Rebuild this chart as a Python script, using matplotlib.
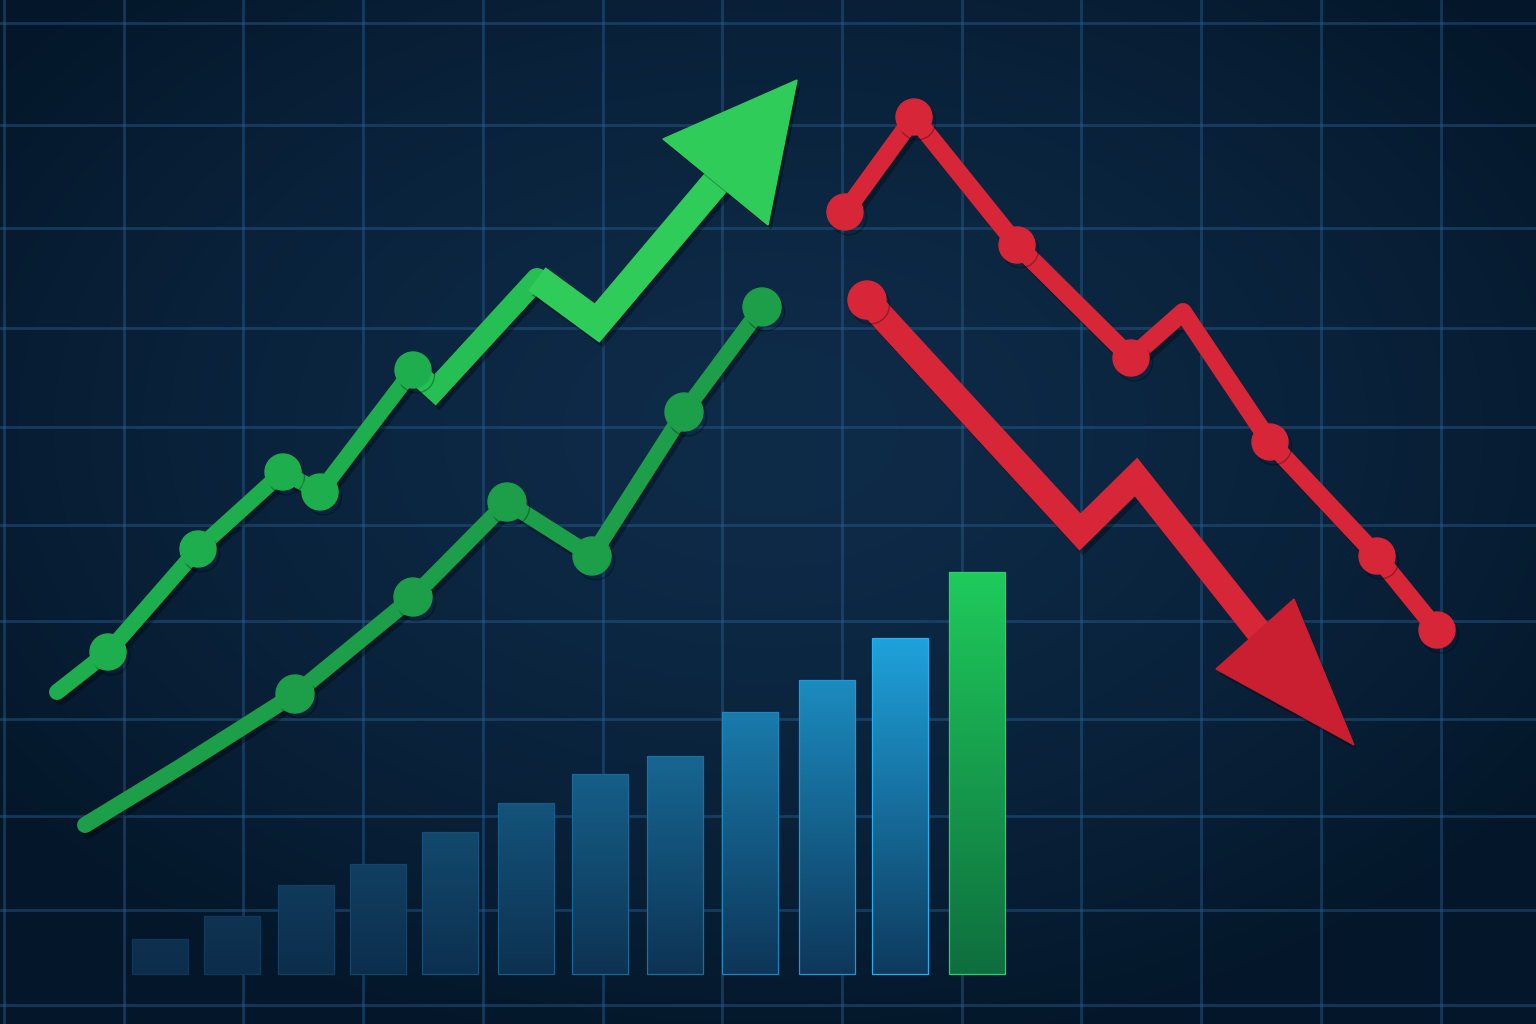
import numpy as np
import matplotlib.pyplot as plt
import matplotlib.patheffects as pe
from matplotlib.patches import Polygon
from matplotlib.colors import LinearSegmentedColormap, to_rgb

W, H = 1536, 1024
PX = 0.72  # pixel -> points at dpi 100

# grid positions
grid_x = [4, 124, 243, 363, 483, 603, 722, 842, 962, 1081, 1201, 1321, 1441]
grid_y = [23, 125, 228, 328, 427, 525, 621, 719, 816, 910, 1005]

# bar chart at the bottom
bar_x = [160, 232, 306, 378, 450, 526, 600, 675, 750, 827, 900, 977]
bar_h = [35, 58, 89, 110, 142, 171, 200, 218, 262, 294, 336, 402]
bar_base = 974

# upper green line ending in the big arrow
g1_x = [57, 108, 198, 283, 320, 413, 435, 537, 597, 728]
g1_y = [692, 652, 549, 472, 492, 370, 390, 279, 323, 168]
g1_dots = [1, 2, 3, 4, 5]
g1_head = [(797, 80), (663, 139), (768, 225)]

# lower green line with dots
g2_x = [85, 180, 295, 413, 507, 592, 684, 762]
g2_y = [825, 767, 694, 597, 502, 556, 412, 307]
g2_dots = [2, 3, 4, 5, 6, 7]

# upper red line with dots
r1_x = [845, 914, 1017, 1131, 1183, 1270, 1377, 1437]
r1_y = [212, 117, 245, 358, 312, 442, 556, 630]
r1_dots = [0, 1, 2, 3, 5, 6, 7]

# lower red line ending in arrow
r2_x = [867, 1080, 1136, 1262]
r2_y = [300, 532, 477, 636]
r2_head = [(1354, 745), (1216, 669), (1294, 599)]

fig = plt.figure(figsize=(15.36, 10.24), dpi=100)
ax = fig.add_axes([0, 0, 1, 1])
ax.axis('off')

# background with vignette
yy, xx = np.mgrid[0:H, 0:W]
d = np.sqrt(((xx - 0.5 * W) / (0.62 * W)) ** 2 + ((yy - 0.42 * H) / (0.62 * H)) ** 2)
t = np.clip(d, 0, 1) ** 1.5
c_mid = np.array(to_rgb('#0e2b48'))
c_edge = np.array(to_rgb('#04172a'))
bg = c_mid * (1 - t[..., None]) + c_edge * t[..., None]
ax.imshow(bg, extent=(0, W, H, 0), zorder=0, aspect='auto')

# grid
for gx in grid_x:
    ax.axvline(gx, color='#2a6598', lw=2.0, alpha=0.42, zorder=1)
for gy in grid_y:
    ax.axhline(gy, color='#2a6598', lw=2.0, alpha=0.42, zorder=1)

# bars with vertical gradient
hmax = max(bar_h[:-1])
for i, (bx, bh) in enumerate(zip(bar_x, bar_h)):
    if i == len(bar_x) - 1:
        top, bot, edge = '#1fcb5b', '#0e6e3e', '#25d463'
    else:
        f = ((bh - bar_h[0]) / (hmax - bar_h[0])) ** 1.5
        top = np.array(to_rgb('#0f3150')) * (1 - f) + np.array(to_rgb('#1fa2dc')) * f
        bot = np.array(to_rgb('#0c2d4b')) * (1 - f) + np.array(to_rgb('#0e3a5e')) * f
        edge = np.clip(top * 1.1, 0, 1)
    rect = ax.bar(bx, bh, width=56, bottom=bar_base - bh, color='none',
                  edgecolor=edge, lw=0.9, zorder=3)[0]
    cmap = LinearSegmentedColormap.from_list('b', [bot, top])
    grad = np.linspace(1, 0, 256).reshape(-1, 1)
    im = ax.imshow(grad, cmap=cmap, extent=(bx - 28, bx + 28, bar_base, bar_base - bh),
                   aspect='auto', zorder=2)
    im.set_clip_path(rect)

shadow = [pe.SimpleLineShadow(offset=(2.5, -3.5), shadow_color='black', alpha=0.3), pe.Normal()]
pshadow = [pe.SimplePatchShadow(offset=(2.5, -3.5), shadow_rgbFace='black', alpha=0.3), pe.Normal()]

green = '#1fae4d'
green_hi = '#2fcc5a'
red = '#d72638'
red_dk = '#c91f30'

# upper green line, getting thicker toward the arrow
ax.plot(g1_x[:6], g1_y[:6], color=green, lw=16 * PX, solid_capstyle='round',
        solid_joinstyle='round', zorder=5, path_effects=shadow)
ax.plot(g1_x[5:8], g1_y[5:8], color='#26bf54', lw=22 * PX, solid_capstyle='round',
        solid_joinstyle='miter', zorder=5, path_effects=shadow)
ax.plot(g1_x[7:], g1_y[7:], color=green_hi, lw=29 * PX, solid_capstyle='butt',
        solid_joinstyle='miter', zorder=5, path_effects=shadow)
ax.plot([g1_x[i] for i in g1_dots], [g1_y[i] for i in g1_dots], 'o', color=green,
        ms=36 * PX, zorder=6, path_effects=shadow)
ax.add_patch(Polygon(g1_head, closed=True, color=green_hi, zorder=6, path_effects=pshadow))

# lower green line
ax.plot(g2_x, g2_y, color='#1c9f48', lw=16 * PX, solid_capstyle='round',
        solid_joinstyle='round', zorder=5, path_effects=shadow)
ax.plot([g2_x[i] for i in g2_dots], [g2_y[i] for i in g2_dots], 'o', color='#1c9f48',
        ms=38 * PX, zorder=6, path_effects=shadow)

# upper red line
ax.plot(r1_x, r1_y, color=red, lw=18 * PX, solid_capstyle='round',
        solid_joinstyle='round', zorder=5, path_effects=shadow)
ax.plot([r1_x[i] for i in r1_dots], [r1_y[i] for i in r1_dots], 'o', color=red,
        ms=36 * PX, zorder=6, path_effects=shadow)

# lower red line with arrow
ax.plot(r2_x, r2_y, color=red, lw=26 * PX, solid_capstyle='round',
        solid_joinstyle='miter', zorder=5, path_effects=shadow)
ax.plot(r2_x[0], r2_y[0], 'o', color=red, ms=38 * PX, zorder=6, path_effects=shadow)
ax.add_patch(Polygon(r2_head, closed=True, color=red_dk, zorder=6, path_effects=pshadow))

ax.set_xlim(0, W)
ax.set_ylim(H, 0)
fig.savefig('out.png', dpi=100)
